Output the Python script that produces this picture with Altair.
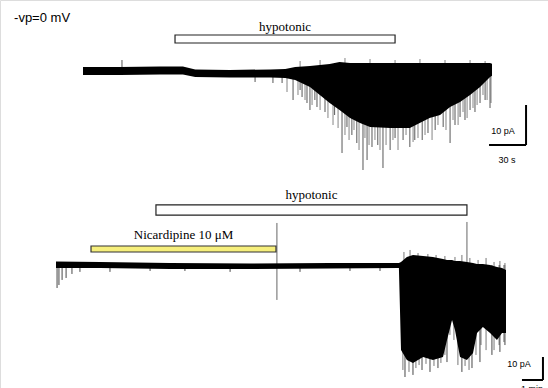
import altair as alt
import pandas as pd

# ---------------- top recording (time in s, current in pA) ----------------
top_env_t = [0, 30, 62.4, 81, 91, 119, 152, 164, 172, 184, 192, 200, 208, 216.5,
             224.6, 232.7, 249, 265, 281, 289.5, 297.6, 305.7, 313.8, 321.9, 330, 331.6]
top_env_hi = [1.0, 1.0, 1.1, 1.1, 0.4, 0.25, 0.4, 0.5, 1.0, 1.25, 1.5, 1.75, 2.25, 2.0,
              2.0, 2.0, 2.0, 2.0, 2.0, 2.0, 2.0, 2.0, 2.0, 2.0, 2.0, 1.8]
top_env_lo = [-1.0, -1.0, -0.9, -0.9, -1.5, -1.6, -1.6, -1.75, -2.25, -4.0, -6.0, -8.0, -9.75, -11.75,
              -13.0, -14.0, -14.25, -14.25, -11.75, -11.0, -9.0, -7.75, -6.0, -4.0, -1.5, -1.2]
# large (dark) events
top_spk_t = [31.6, 139.5, 154, 161.4, 170.3, 176, 177.6, 181.6, 184, 188, 189.7, 196.2, 204, 210,
             214, 218, 222, 227, 230.3, 234.3, 239, 243.2, 249, 253, 259.5, 265, 269, 275,
             279.7, 285.5, 292, 297.6, 301.6, 305.7, 309.7, 313.8, 317.8, 321.9, 326, 330]
top_spk_i = [2.75, -2.75, -3.0, -3.0, -7.25, -4.75, -6.5, -8.0, -9.75, -7.25, -9.0, -10.25, -11.0, -20.5,
             -14.0, -16.0, -18.0, -24.75, -22.25, -19.0, -18.5, -24.25, -19.75, -16.75, -17.25, -19.0, -17.25, -17.25,
             -15.5, -14.75, -14.0, -18.0, -13.5, -11.5, -12.25, -9.75, -10.25, -8.0, -7.25, -9.25]
# further (grey) events
top_spk2_t = [165.4, 174.3, 180.0, 185.7, 192.2, 198.6, 202.7, 206.8, 212.4, 215.7, 219.7, 223.8,
              228.6, 231.9, 236.7, 240.8, 245.7, 251.3, 255.4, 261.9, 267.6, 271.6, 277.3, 283.0,
              287.8, 294.3, 300.0, 304.1, 308.1, 311.4, 316.2, 319.5, 324.3, 327.6, 330.8,
              176, 192.2, 212.4, 232.7, 253, 273.2, 293.5, 313.8, 326]
top_spk2_i = [-5.25, -6.0, -7.25, -8.5, -9.75, -11.75, -13.5, -14.25, -16.0, -17.25, -14.75, -19.75,
              -16.75, -18.5, -17.25, -19.75, -18.5, -17.25, -19.75, -16.0, -17.75, -16.75, -16.0, -17.25,
              -13.5, -14.75, -12.25, -13.5, -10.25, -11.75, -9.25, -8.5, -6.0, -7.25, -8.0,
              2.5, 2.75, 3.25, 3.0, 2.75, 3.0, 2.75, 2.75, 2.5]
top_hypo = [74.6, 253.0]          # hypotonic application (s)
top_bar_t = [329.2, 359.2]        # 30 s
top_bar_i = [-8.5, -18.5]         # 10 pA

# ---------------- bottom recording (time in min, current in pA) ----------------
bot_env_t = [0, 2.095, 5.43, 9.24, 13.05, 16.33, 16.43, 16.71, 17.0, 17.48, 17.95, 18.43, 18.62, 18.86,
             19.0, 19.24, 19.57, 19.86, 20.05, 20.33, 20.67, 21.0, 21.24, 21.43]
bot_env_hi = [1.52, 1.3, 0.87, 0.65, 0.87, 0.87, 1.3, 3.48, 4.35, 3.9, 3.48, 2.6, 2.17, 2.17,
              1.74, 1.74, 1.3, 0.87, 0.43, 0.43, 0.0, -0.87, -1.3, -2.17]
bot_env_lo = [-1.3, -1.3, -1.74, -1.74, -1.52, -1.3, -36.96, -41.3, -42.6, -40.0, -41.3, -40.0, -32.6, -23.9,
              -28.3, -40.0, -41.3, -38.3, -29.6, -27.0, -29.6, -32.6, -29.6, -29.6]
bot_spk_t = [0.05, 0.14, 0.29, 0.48, 0.76, 1.14, 2.57, 4.48, 6.14, 8.29, 11.62, 14.0, 15.43,
             16.62, 17.0, 17.43, 17.81, 18.19, 18.62, 19.33, 19.81, 20.19, 20.76, 21.14, 21.38]
bot_spk_i = [-10.0, -8.7, -6.5, -5.65, -3.9, -3.0, -3.0, -2.6, -2.6, -3.0, -3.0, -2.6, -2.6,
             -48.7, -47.8, -45.65, -46.5, -44.8, -42.2, -46.5, -44.8, -42.2, -39.1, -37.8, -34.8]
bot_spk2_t = [16.52, 16.81, 17.14, 17.29, 17.62, 18.0, 18.33, 18.52, 18.76, 18.95, 19.14, 19.48,
              19.67, 20.0, 20.24, 20.48, 20.86, 21.1, 21.33,
              16.57, 16.86, 17.24, 17.71, 18.1, 18.52, 19.0, 19.33, 19.71, 20.1, 20.48, 20.86, 21.14, 21.38]
bot_spk2_i = [-45.65, -46.5, -44.8, -43.5, -43.0, -43.9, -42.6, -39.1, -30.4, -32.6, -43.5, -43.9,
              -45.65, -39.1, -34.8, -37.0, -37.0, -34.8, -33.5,
              5.65, 6.52, 5.2, 4.78, 4.35, 3.9, 3.48, 4.35, 3.04, 2.17, 3.04, 1.3, 1.74, 0.87]
bot_art_t = [10.52, 19.57]        # artefacts
bot_art_hi = [18.26, 18.7]
bot_art_lo = [-15.2, 0.87]
bot_hypo = [4.76, 19.57]          # hypotonic (min)
bot_nica = [1.667, 10.476]        # nicardipine 10 uM (min)
bot_bar_t = [22.19, 23.19]        # 1 min
bot_bar_i = [-40.0, -50.0]        # 10 pA

TX = [-67.3, 377.0]
TY = [-79.25, 17.75]
BX = [-2.667, 23.43]
BY = [-53.48, 115.2]


def X(f, dom):
    return alt.X(f"{f}:Q", scale=alt.Scale(domain=dom, nice=False, zero=False), axis=None)


def Y(f, dom):
    return alt.Y(f"{f}:Q", scale=alt.Scale(domain=dom, nice=False, zero=False), axis=None)


def X2(f):
    return alt.X2(f"{f}:Q")


def Y2(f):
    return alt.Y2(f"{f}:Q")


layers = []

# ---- top panel ----
spk2 = pd.DataFrame({"t": top_spk2_t, "i": top_spk2_i, "z": 0.0})
layers.append(alt.Chart(spk2).mark_rule(color="#666", strokeWidth=0.8).encode(
    x=X("t", TX), y=Y("i", TY), y2=Y2("z")))
spk = pd.DataFrame({"t": top_spk_t, "i": top_spk_i, "z": 0.0})
layers.append(alt.Chart(spk).mark_rule(color="#444", strokeWidth=0.9).encode(
    x=X("t", TX), y=Y("i", TY), y2=Y2("z")))
env = pd.DataFrame({"t": top_env_t, "hi": top_env_hi, "lo": top_env_lo})
layers.append(alt.Chart(env).mark_area(color="black").encode(
    x=X("t", TX), y=Y("hi", TY), y2=Y2("lo")))
hb = pd.DataFrame({"a": [top_hypo[0]], "b": [top_hypo[1]], "y1": [9.0], "y2": [7.0]})
layers.append(alt.Chart(hb).mark_rect(fill="white", stroke="#222", strokeWidth=1.2).encode(
    x=X("a", TX), x2=X2("b"), y=Y("y1", TY), y2=Y2("y2")))
ht = pd.DataFrame({"t": [sum(top_hypo) / 2], "i": [9.75], "s": ["hypotonic"]})
layers.append(alt.Chart(ht).mark_text(font="Liberation Serif", fontSize=13, baseline="alphabetic",
                                      dy=-1).encode(x=X("t", TX), y=Y("i", TY), text="s:N"))
vp = pd.DataFrame({"t": [-55.9], "i": [13.25], "s": ["-vp=0 mV"]})
layers.append(alt.Chart(vp).mark_text(font="Liberation Sans", fontSize=13, align="left",
                                      baseline="middle").encode(x=X("t", TX), y=Y("i", TY), text="s:N"))
sbv = pd.DataFrame({"t": [top_bar_t[1]], "a": [top_bar_i[0]], "b": [top_bar_i[1]]})
layers.append(alt.Chart(sbv).mark_rule(color="black", strokeWidth=2).encode(
    x=X("t", TX), y=Y("a", TY), y2=Y2("b")))
sbh = pd.DataFrame({"a": [top_bar_t[0]], "b": [top_bar_t[1]], "i": [top_bar_i[1]]})
layers.append(alt.Chart(sbh).mark_rule(color="black", strokeWidth=2).encode(
    x=X("a", TX), x2=X2("b"), y=Y("i", TY)))
tl = pd.DataFrame({"t": [340.5, 343.8], "i": [-15.0, -22.25], "s": ["10 pA", "30 s"]})
layers.append(alt.Chart(tl).mark_text(font="Liberation Sans", fontSize=9, baseline="middle").encode(
    x=X("t", TX), y=Y("i", TY), text="s:N"))

# ---- bottom panel ----
art = pd.DataFrame({"t": bot_art_t, "a": bot_art_hi, "b": bot_art_lo})
layers.append(alt.Chart(art).mark_rule(color="#666", strokeWidth=1).encode(
    x=X("t", BX), y=Y("a", BY), y2=Y2("b")))
bspk2 = pd.DataFrame({"t": bot_spk2_t, "i": bot_spk2_i, "z": 0.0})
layers.append(alt.Chart(bspk2).mark_rule(color="#555", strokeWidth=0.8).encode(
    x=X("t", BX), y=Y("i", BY), y2=Y2("z")))
bspk = pd.DataFrame({"t": bot_spk_t, "i": bot_spk_i, "z": 0.0})
layers.append(alt.Chart(bspk).mark_rule(color="#333", strokeWidth=0.9).encode(
    x=X("t", BX), y=Y("i", BY), y2=Y2("z")))
benv = pd.DataFrame({"t": bot_env_t, "hi": bot_env_hi, "lo": bot_env_lo})
layers.append(alt.Chart(benv).mark_area(color="black").encode(
    x=X("t", BX), y=Y("hi", BY), y2=Y2("lo")))
bhb = pd.DataFrame({"a": [bot_hypo[0]], "b": [bot_hypo[1]], "y1": [26.1], "y2": [21.7]})
layers.append(alt.Chart(bhb).mark_rect(fill="white", stroke="#222", strokeWidth=1.2).encode(
    x=X("a", BX), x2=X2("b"), y=Y("y1", BY), y2=Y2("y2")))
nb = pd.DataFrame({"a": [bot_nica[0]], "b": [bot_nica[1]], "y1": [8.26], "y2": [5.65]})
layers.append(alt.Chart(nb).mark_rect(fill="#f6ef7c", stroke="#333", strokeWidth=1.2).encode(
    x=X("a", BX), x2=X2("b"), y=Y("y1", BY), y2=Y2("y2")))
btx = pd.DataFrame({"t": [sum(bot_hypo) / 2, sum(bot_nica) / 2], "i": [30.4, 13.04],
                    "s": ["hypotonic", "Nicardipine 10 \u03bcM"]})
layers.append(alt.Chart(btx).mark_text(font="Liberation Serif", fontSize=13, baseline="middle").encode(
    x=X("t", BX), y=Y("i", BY), text="s:N"))
bsv = pd.DataFrame({"t": [bot_bar_t[1]], "a": [bot_bar_i[0]], "b": [bot_bar_i[1]]})
layers.append(alt.Chart(bsv).mark_rule(color="black", strokeWidth=2).encode(
    x=X("t", BX), y=Y("a", BY), y2=Y2("b")))
bsh = pd.DataFrame({"a": [bot_bar_t[0]], "b": [bot_bar_t[1]], "i": [bot_bar_i[1]]})
layers.append(alt.Chart(bsh).mark_rule(color="black", strokeWidth=2).encode(
    x=X("a", BX), x2=X2("b"), y=Y("i", BY)))
bl1 = pd.DataFrame({"t": [22.05], "i": [-43.0], "s": ["10 pA"]})
layers.append(alt.Chart(bl1).mark_text(font="Liberation Sans", fontSize=9, baseline="middle").encode(
    x=X("t", BX), y=Y("i", BY), text="s:N"))
bl2 = pd.DataFrame({"t": [22.67], "i": [-52.2], "s": ["1 min"]})
layers.append(alt.Chart(bl2).mark_text(font="Liberation Sans", fontSize=9, baseline="top").encode(
    x=X("t", BX), y=Y("i", BY), text="s:N"))

chart = alt.layer(*layers).resolve_scale(x="independent", y="independent").properties(
    width=548, height=388, padding=0,
    autosize=alt.AutoSizeParams(type="none"),
).configure_view(stroke=None).configure(background="white")

chart.save("out.html", embed_options={"renderer": "svg", "actions": False})
